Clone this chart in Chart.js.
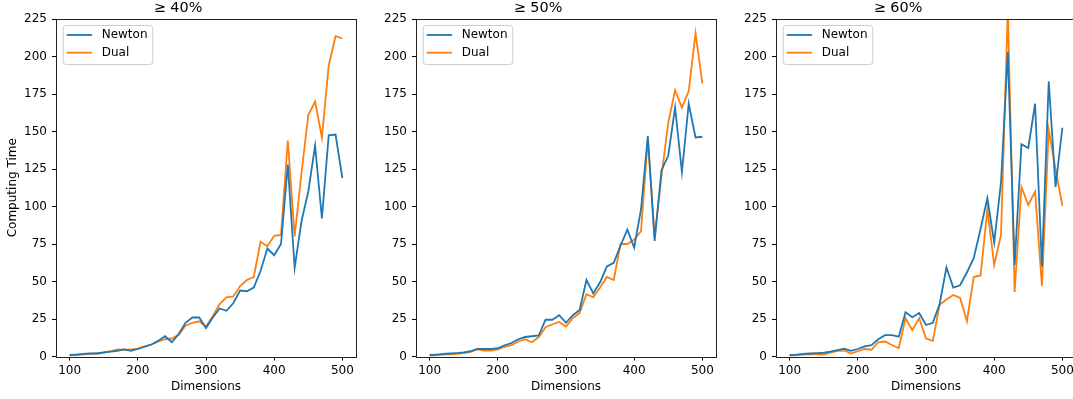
<!DOCTYPE html>
<html>
<head>
<meta charset="utf-8">
<script src="https://cdn.jsdelivr.net/npm/chart.js@4.4.0/dist/chart.umd.min.js"></script>
<style>
  html, body { margin: 0; padding: 0; background: #fff; overflow: hidden; width: 1073px; height: 399px; }
  canvas { position: absolute; top: 0; }
</style>
</head>
<body>
<canvas id="c40" width="360" height="399" style="left:0px"></canvas>
<canvas id="c50" width="360" height="399" style="left:360px"></canvas>
<canvas id="c60" width="360" height="399" style="left:720px"></canvas>
<script>
// ---- data ----
const dims = [100, 110, 120, 130, 140, 150, 160, 170, 180, 190,
              200, 210, 220, 230, 240, 250, 260, 270, 280, 290,
              300, 310, 320, 330, 340, 350, 360, 370, 380, 390,
              400, 410, 420, 430, 440, 450, 460, 470, 480, 490, 500];

const newton40 = [1, 1.3, 1.7, 2, 2, 2.8, 3.2, 3.8, 4.8, 3.8,
                  5, 6.5, 8, 10.5, 13.5, 9.5, 15, 22.5, 26, 26,
                  19, 26, 32, 30.5, 35.5, 44, 43.5, 46, 57, 72,
                  67.5, 75, 128, 59, 90, 110, 140.5, 92, 147.5, 148, 119];
const dual40 = [0.8, 1, 1.5, 1.8, 2, 2.5, 3.5, 4.8, 4.5, 4.8,
                5.2, 6.8, 8, 10, 11.5, 12, 14.5, 20.5, 22.5, 23.5,
                20, 27, 35, 39.5, 40, 47, 51, 53, 76.5, 73.5,
                80.5, 81, 144, 80, 122, 161, 170, 146, 194, 213.5, 212];

const newton50 = [1, 1.3, 1.7, 2, 2.3, 2.7, 3.5, 5, 5, 5,
                  5.5, 7.5, 9, 11.5, 13, 13.5, 14, 24.5, 24.5, 27.5,
                  22.5, 27.5, 31, 51, 42, 49.5, 60, 62.5, 74, 84.5,
                  72.5, 98, 147, 77, 124, 134, 166, 123, 168.5, 146, 146.5];
const dual50 = [0.5, 0.8, 1.2, 1.5, 1.7, 2.2, 3, 4.7, 4, 4,
                4.8, 6.5, 7.5, 10, 11.5, 9.5, 13, 19.5, 21.5, 23,
                20, 25.5, 29, 41.5, 39.5, 46, 53, 51, 75, 75,
                78, 83.5, 145, 80, 120, 156, 177.5, 166, 177, 215.5, 182];

const newton60 = [1, 1.2, 1.7, 2, 2.2, 2.5, 3.2, 4.3, 5.2, 3.8,
                  5, 6.7, 7.5, 11.5, 14.2, 14.2, 13.2, 29.5, 26.2, 29,
                  21, 22.5, 35, 59.5, 46, 47.5, 56, 65.5, 85, 105.5,
                  76, 116, 203, 61, 141.5, 139, 168.5, 60, 183.5, 113, 152.5];
const dual60 = [0.5, 0.8, 1.2, 1.5, 1.5, 1.2, 2.5, 3.8, 4, 2,
                3.5, 5, 4.5, 9.5, 10, 7.7, 5.5, 25.5, 17.5, 25.5,
                12, 10.5, 34.5, 38, 41, 39, 23.5, 53, 54, 98,
                61, 81, 232, 43, 113, 101, 110, 47, 151, 125, 100.5];

const xTicks = [100, 200, 300, 400, 500];
const yTicks = [0, 25, 50, 75, 100, 125, 150, 175, 200, 225];

const BLUE = '#1f77b4';
const ORANGE = '#ff7f0e';

Chart.defaults.font.family = '"DejaVu Sans", sans-serif';
Chart.defaults.color = '#000';

// matplotlib style box round the plot area
const framePlugin = {
  id: 'frame',
  afterDatasetsDraw(chart) {
    const { ctx, chartArea: a } = chart;
    ctx.save();
    ctx.strokeStyle = '#222';
    ctx.lineWidth = 1;
    ctx.strokeRect(Math.round(a.left) + 0.5, Math.round(a.top) + 0.5,
                   Math.round(a.right - a.left), Math.round(a.bottom - a.top));
    ctx.restore();
  }
};

// legend drawn inside the axes, upper left
const legendPlugin = {
  id: 'innerLegend',
  afterDraw(chart) {
    const { ctx, chartArea: a } = chart;
    const x = a.left + 6.7, y = a.top + 6, w = 89.6, h = 39;
    ctx.save();
    ctx.fillStyle = 'rgba(255,255,255,0.8)';
    ctx.strokeStyle = '#cccccc';
    ctx.lineWidth = 1;
    ctx.beginPath();
    ctx.roundRect(x + 0.5, y + 0.5, w, h, 3);
    ctx.fill();
    ctx.stroke();
    ctx.font = '12px "DejaVu Sans"';
    ctx.textBaseline = 'middle';
    chart.data.datasets.forEach((ds, i) => {
      const ry = y + 10 + i * 17.7;
      ctx.strokeStyle = ds.borderColor;
      ctx.lineWidth = 1.8;
      ctx.beginPath();
      ctx.moveTo(x + 4, ry);
      ctx.lineTo(x + 29.3, ry);
      ctx.stroke();
      ctx.fillStyle = '#000';
      ctx.fillText(ds.label, x + 39, ry);
    });
    ctx.restore();
  }
};

function makeChart(id, title, newton, dual, showYTitle) {
  const toXY = (vals) => dims.map((d, i) => ({ x: d, y: vals[i] }));
  return new Chart(document.getElementById(id), {
    type: 'line',
    data: {
      datasets: [
        { label: 'Newton', data: toXY(newton), borderColor: BLUE, borderWidth: 1.8,
          pointRadius: 0, tension: 0, fill: false },
        { label: 'Dual', data: toXY(dual), borderColor: ORANGE, borderWidth: 1.8,
          pointRadius: 0, tension: 0, fill: false }
      ]
    },
    options: {
      responsive: false,
      animation: false,
      layout: { padding: { left: 0, right: 4, top: 0, bottom: 0 } },
      plugins: {
        legend: { display: false },
        tooltip: { enabled: false },
        title: {
          display: true,
          text: title,
          color: '#000',
          font: { size: 14.4, weight: 'normal', lineHeight: 1.0 },
          padding: { top: 1, bottom: 3.6 }
        }
      },
      scales: {
        x: {
          type: 'linear',
          min: 80,
          max: 520,
          afterBuildTicks: (scale) => { scale.ticks = xTicks.map((v) => ({ value: v })); },
          afterFit: (scale) => { scale.height = 42.5; },
          grid: { drawOnChartArea: false, drawTicks: true, tickLength: 4, color: '#000', lineWidth: 1 },
          border: { display: false },
          ticks: { font: { size: 12 }, color: '#000', padding: 3, maxRotation: 0 },
          title: { display: true, text: 'Dimensions', color: '#000',
                   font: { size: 12 }, padding: { top: 0, bottom: 5.3 } }
        },
        y: {
          type: 'linear',
          min: 0,
          max: 225,
          afterBuildTicks: (scale) => { scale.ticks = yTicks.map((v) => ({ value: v })); },
          afterFit: (scale) => { scale.width = 56; },
          grid: { drawOnChartArea: false, drawTicks: true, tickLength: 4, color: '#000', lineWidth: 1 },
          border: { display: false },
          ticks: { font: { size: 12 }, color: '#000', padding: 5 },
          title: { display: showYTitle, text: 'Computing Time', color: '#000',
                   font: { size: 12 }, padding: { top: 6, bottom: 0 } }
        }
      }
    },
    plugins: [framePlugin, legendPlugin]
  });
}

makeChart('c40', '≥ 40%', newton40, dual40, true);
makeChart('c50', '≥ 50%', newton50, dual50, false);
makeChart('c60', '≥ 60%', newton60, dual60, false);
</script>
</body>
</html>
